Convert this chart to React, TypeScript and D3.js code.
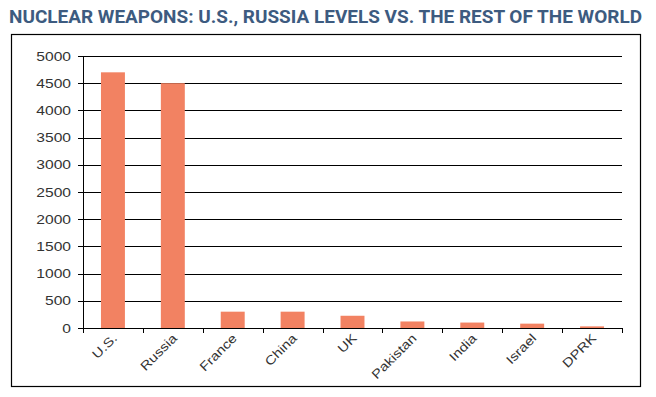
import React from "react";
import * as d3 from "d3";

const categories = ["U.S.", "Russia", "France", "China", "UK", "Pakistan", "India", "Israel", "DPRK"];
const warheads = [4700, 4500, 300, 300, 225, 120, 100, 80, 30];
const yTicks = [0, 500, 1000, 1500, 2000, 2500, 3000, 3500, 4000, 4500, 5000];
const title = "NUCLEAR WEAPONS: U.S., RUSSIA LEVELS VS. THE REST OF THE WORLD";

export default function App() {
  const W = 656, H = 397;
  const left = 83, right = 622, top = 56, bottom = 328;
  const x = d3.scaleBand<string>().domain(categories).range([left, right]).paddingInner(0).paddingOuter(0);
  const y = d3.scaleLinear().domain([0, 5000]).range([bottom, top]);
  const bw = x.bandwidth() * 0.4;
  const font = "'Liberation Sans', Arial, sans-serif";
  return (
    <svg width={W} height={H} style={{ position: "absolute", left: 0, top: 0, background: "#fff" }}>
      <text x={9} y={23} fontFamily="Roboto, sans-serif" fontWeight={700} fontSize={18} fill="#3d5b80"
        textLength={633} lengthAdjust="spacingAndGlyphs">{title}</text>
      <rect x={11.5} y={34.5} width={629} height={352} fill="none" stroke="#000" strokeWidth={1.2} />
      {yTicks.map((t) => (
        <g key={t}>
          <line x1={78} x2={right} y1={Math.round(y(t)) + 0.5} y2={Math.round(y(t)) + 0.5} stroke="#000" strokeWidth={1} />
          <text transform={`translate(71,${y(t) + 4.5}) scale(1.25,1)`} textAnchor="end" fontFamily={font}
            fontSize={12.5} fill="#333">{t}</text>
        </g>
      ))}
      <line x1={left + 0.5} x2={left + 0.5} y1={top} y2={bottom} stroke="#000" />
      {categories.map((c, i) => (
        <rect key={c} x={x(c)! + (x.bandwidth() - bw) / 2} y={y(warheads[i])} width={bw}
          height={y(0) - y(warheads[i])} fill="#f28262" />
      ))}
      {[...categories.map((c) => x(c)!), right].map((px, i) => (
        <line key={i} x1={Math.round(px) + 0.5} x2={Math.round(px) + 0.5} y1={bottom} y2={bottom + 5} stroke="#000" />
      ))}
      <line x1={left} x2={right} y1={bottom + 0.5} y2={bottom + 0.5} stroke="#000" />
      {categories.map((c) => {
        const cx = x(c)! + x.bandwidth() / 2 + 5;
        return (
          <text key={c} transform={`translate(${cx},${bottom + 11}) rotate(-45) scale(1.2,1)`} textAnchor="end"
            fontFamily={font} fontSize={12.5} fill="#333">{c}</text>
        );
      })}
    </svg>
  );
}
